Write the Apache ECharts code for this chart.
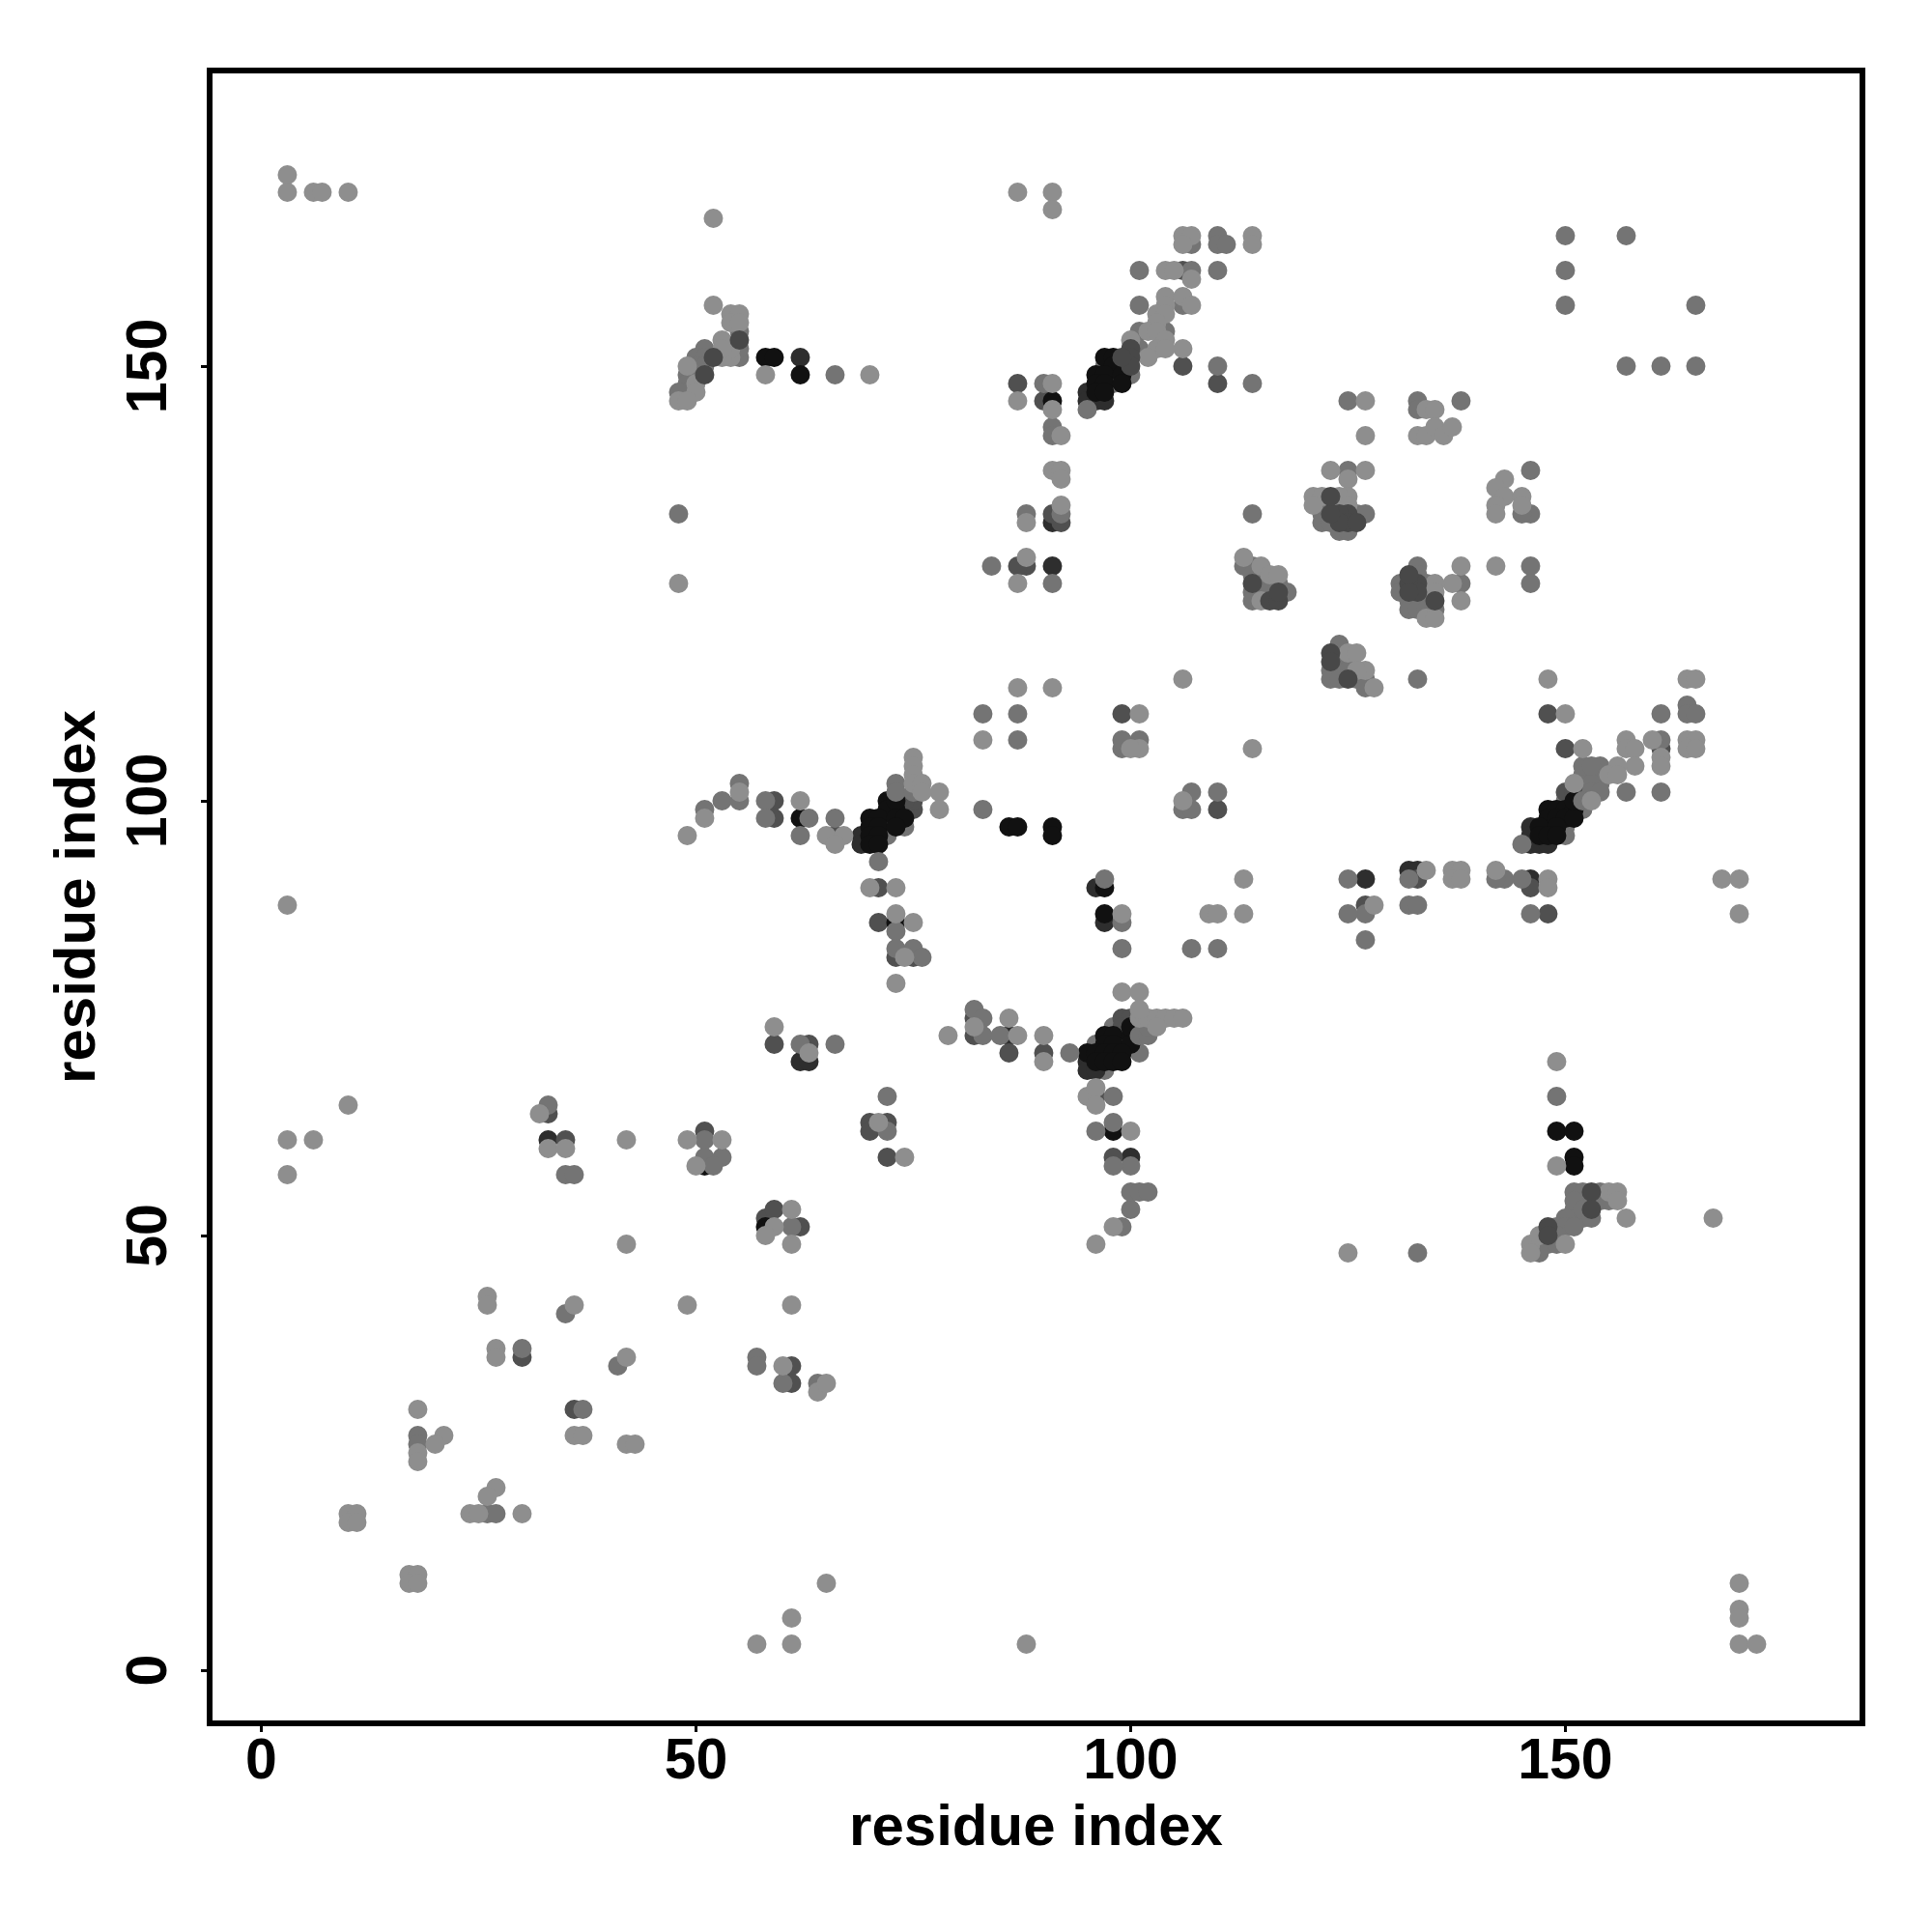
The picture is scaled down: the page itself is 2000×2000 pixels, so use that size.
<!DOCTYPE html>
<html><head><meta charset="utf-8">
<style>html,body{margin:0;padding:0;background:#fff}#c{width:2000px;height:2000px}</style>
<script src="https://cdn.jsdelivr.net/npm/echarts@6/dist/echarts.min.js"></script>
</head><body><div id="c"></div>
<script>
var tickValues = [0, 50, 100, 150];
var axisTitle = "residue index";
var buriedPts = [[72,97],[72,96],[72,99],[71,97],[74,97],[98,72],[99,72],[98,74],[96,72],[97,69],[101,71],[148,97],[150,97],[150,100],[152,99],[98,149],[98,148],[97,150],[99,150],[100,149],[150,96]];
var deepPts = [[33,61],[62,151],[69,96],[69,95],[95,70],[95,69],[96,69],[95,147],[95,146],[96,146],[97,146],[146,97],[146,96],[146,95],[147,95],[148,95],[146,91],[96,90],[97,86],[62,70],[63,70],[86,73],[91,127],[127,91],[132,92],[133,92],[100,59],[91,132]];
var darkPts = [[33,64],[35,61],[51,62],[59,72],[63,72],[70,63],[72,63],[70,62],[72,59],[58,52],[59,53],[62,51],[30,36],[36,30],[61,35],[61,33],[59,100],[59,98],[66,96],[71,90],[71,86],[72,98],[74,99],[75,99],[75,100],[74,100],[73,82],[75,82],[82,75],[82,73],[86,71],[90,71],[99,75],[100,75],[99,74],[101,74],[99,73],[99,72],[96,66],[98,59],[87,148],[90,146],[88,127],[87,127],[91,133],[92,132],[106,161],[106,150],[110,148],[99,110],[148,110],[110,99],[127,88],[133,91],[146,90],[148,87],[150,101],[151,101],[152,101],[161,106],[150,106]];
var blackPts = [[51,58],[58,51],[58,151],[59,151],[62,149],[62,98],[72,100],[73,99],[72,99],[73,100],[70,98],[71,98],[73,98],[74,98],[70,97],[71,97],[73,97],[70,96],[71,96],[70,95],[71,95],[73,86],[97,73],[98,73],[100,73],[97,72],[98,72],[100,72],[100,74],[95,71],[96,71],[97,71],[98,71],[99,71],[96,70],[97,70],[98,70],[99,70],[98,62],[149,62],[151,62],[151,59],[151,58],[97,151],[98,151],[98,150],[96,149],[97,149],[99,149],[96,148],[97,148],[99,148],[96,147],[97,147],[86,97],[87,97],[91,97],[91,96],[97,90],[97,87],[148,99],[149,99],[150,99],[151,99],[148,98],[149,98],[150,98],[151,98],[151,100],[147,97],[149,97],[147,96],[148,96],[149,96],[91,146]];
var midPts = [[35,57],[36,57],[33,65],[51,61],[51,59],[53,59],[52,58],[62,72],[66,72],[72,62],[72,66],[61,51],[35,41],[30,37],[41,35],[57,36],[57,35],[60,33],[64,33],[37,30],[18,27],[18,26],[26,18],[27,18],[133,48],[149,66],[151,55],[154,55],[152,54],[153,54],[151,53],[151,52],[152,52],[150,52],[149,51],[150,51],[151,51],[149,50],[147,49],[148,49],[149,49],[147,48],[152,55],[151,54],[152,53],[153,52],[154,54],[155,54],[51,99],[53,100],[55,102],[55,100],[58,100],[58,98],[63,98],[62,96],[66,98],[66,149],[48,133],[55,151],[55,152],[51,152],[50,151],[51,151],[50,150],[51,150],[49,149],[50,149],[49,148],[49,147],[48,147],[55,154],[71,93],[73,85],[73,83],[75,83],[76,82],[73,102],[73,101],[75,101],[82,76],[83,75],[83,73],[85,73],[93,71],[98,66],[98,63],[100,58],[98,58],[96,62],[99,51],[100,53],[100,55],[101,55],[102,55],[101,73],[102,73],[102,74],[91,125],[84,127],[88,133],[92,133],[91,143],[91,142],[90,148],[106,99],[107,101],[110,101],[107,99],[83,99],[87,107],[83,110],[87,110],[101,107],[99,106],[99,107],[101,161],[101,157],[104,154],[101,154],[101,152],[107,161],[110,165],[110,164],[111,164],[110,161],[107,164],[106,157],[114,148],[110,150],[150,165],[157,165],[150,157],[165,157],[150,161],[157,150],[165,150],[161,150],[107,83],[110,83],[99,83],[114,133],[133,114],[97,91],[125,91],[132,91],[127,84],[127,87],[132,88],[133,88],[146,87],[99,86],[125,87],[145,91],[143,91],[142,91],[125,138],[133,146],[138,146],[146,138],[146,133],[145,133],[146,127],[146,125],[138,125],[133,127],[122,134],[123,134],[124,134],[122,133],[126,133],[127,133],[122,132],[123,132],[124,131],[125,131],[133,126],[131,125],[134,125],[131,124],[134,124],[132,123],[133,123],[134,123],[132,122],[133,122],[134,122],[135,122],[114,127],[113,127],[114,126],[115,126],[115,125],[116,125],[117,125],[114,124],[115,124],[116,124],[118,124],[114,123],[124,118],[124,116],[125,116],[123,115],[124,115],[125,115],[123,114],[124,114],[126,114],[127,114],[127,113],[161,110],[164,111],[164,110],[165,110],[161,107],[157,101],[161,101],[152,103],[153,103],[154,103],[154,104],[154,102],[153,102],[153,101],[154,101],[152,100],[145,95],[95,145],[125,146],[133,145],[152,104],[153,104]];
var lightPts = [[3,61],[6,61],[3,57],[10,65],[32,64],[33,60],[35,60],[42,61],[49,61],[50,58],[53,61],[42,49],[49,42],[61,42],[59,74],[63,71],[71,63],[74,59],[73,79],[79,73],[61,53],[59,51],[58,50],[61,49],[26,43],[26,42],[36,42],[27,37],[27,36],[42,36],[60,35],[64,32],[65,33],[18,30],[36,27],[37,27],[42,26],[43,26],[21,27],[20,26],[18,25],[18,24],[27,21],[26,20],[24,18],[25,18],[30,18],[10,18],[11,18],[10,17],[11,17],[17,11],[18,11],[17,10],[18,10],[65,10],[61,6],[57,3],[61,3],[99,78],[101,78],[88,3],[170,10],[170,7],[170,6],[170,3],[172,3],[125,48],[157,52],[167,52],[149,70],[149,58],[155,55],[156,55],[156,54],[150,49],[146,49],[146,48],[147,50],[3,172],[3,170],[6,170],[7,170],[10,170],[52,167],[52,157],[48,125],[3,88],[49,96],[51,98],[55,101],[62,100],[65,96],[67,96],[66,95],[78,101],[78,99],[54,156],[55,156],[54,155],[55,155],[54,151],[54,152],[53,151],[53,153],[53,152],[49,150],[50,148],[50,147],[48,146],[49,146],[58,149],[70,149],[75,105],[75,104],[75,103],[75,102],[76,102],[76,101],[70,90],[73,90],[73,87],[75,86],[74,82],[82,74],[86,75],[87,73],[90,73],[90,70],[95,66],[96,67],[96,65],[100,62],[98,51],[96,49],[101,75],[102,75],[103,75],[104,75],[105,75],[106,75],[101,76],[103,74],[87,170],[91,170],[91,168],[106,165],[107,165],[114,165],[106,164],[114,164],[104,161],[105,161],[107,160],[104,158],[106,158],[107,157],[104,157],[103,156],[104,156],[103,155],[102,154],[103,154],[100,153],[104,153],[103,152],[106,152],[102,151],[104,152],[91,148],[87,146],[91,145],[92,142],[91,138],[92,138],[92,137],[92,134],[88,132],[88,128],[87,125],[106,114],[87,113],[91,113],[83,107],[101,110],[101,106],[100,106],[114,106],[106,100],[150,110],[148,114],[164,114],[165,114],[157,107],[160,107],[164,107],[165,107],[157,106],[158,106],[164,106],[165,106],[161,105],[161,104],[158,104],[156,104],[155,103],[156,103],[152,106],[151,102],[153,100],[113,91],[134,92],[137,92],[138,92],[137,91],[138,91],[142,92],[148,91],[148,90],[168,91],[170,91],[170,87],[99,87],[128,88],[109,87],[110,87],[113,87],[127,146],[134,145],[135,145],[127,142],[133,142],[134,142],[135,143],[136,142],[137,143],[138,127],[137,125],[138,123],[142,127],[123,138],[127,138],[125,137],[143,137],[142,136],[143,135],[145,135],[142,134],[142,133],[145,134],[121,135],[122,135],[125,135],[124,135],[121,134],[125,134],[135,125],[135,124],[134,121],[135,121],[113,128],[115,127],[116,126],[117,126],[115,123],[125,117],[126,117],[127,115],[126,115],[128,113]];
var topDarkPts = [[55,153],[51,149],[52,151],[125,133],[124,133],[125,132],[124,132],[126,132],[123,133],[123,135],[133,125],[132,125],[133,124],[132,124],[132,126],[135,123],[116,123],[117,123],[117,124],[114,125],[123,117],[123,116],[125,114],[153,55],[153,53],[148,51],[148,50],[100,152],[100,151],[100,150],[99,151]];

var shadeColors = {buried:"#747474", deep:"#2e2e2e", dark:"#505050", black:"#111111", mid:"#747474", light:"#8e8e8e", topDark:"#484848"};
function layer(name, pts){
  return {name:name, type:"scatter", data:pts, symbol:"circle", symbolSize:20, silent:true, animation:false,
    itemStyle:{color:shadeColors[name], opacity:1}};
}
var fontFam = '"Liberation Sans", Arial, sans-serif';
function axis(min,max,rot,nameGap,labelMargin){
  return {type:"value", min:min, max:max, name:axisTitle, nameLocation:"middle", nameGap:nameGap,
    nameTextStyle:{fontFamily:fontFam, fontWeight:"bold", fontSize:60, color:"#000"},
    axisLine:{show:false, onZero:false},
    axisTick:{show:true, customValues:tickValues, length:9, inside:false, lineStyle:{color:"#000", width:3}},
    axisLabel:{show:true, customValues:tickValues, rotate:rot, margin:labelMargin, fontFamily:fontFam, fontWeight:"bold", fontSize:59, color:"#000", formatter:function(v){return String(v);}},
    splitLine:{show:false}};
}
var chart = echarts.init(document.getElementById("c"), null, {renderer:"canvas", width:2000, height:2000});
chart.setOption({
  backgroundColor:"#fff", animation:false,
  grid:{left:217, top:73, width:1711, height:1711, show:true, borderColor:"#000", borderWidth:6, backgroundColor:"transparent", containLabel:false},
  xAxis:axis(-5.94,184.17,0,79,11),
  yAxis:axis(-6.11,184.0,90,106,32),
  series:[layer("buried",buriedPts),layer("deep",deepPts),layer("dark",darkPts),layer("black",blackPts),layer("mid",midPts),layer("light",lightPts),layer("topDark",topDarkPts)]
});
</script></body></html>
